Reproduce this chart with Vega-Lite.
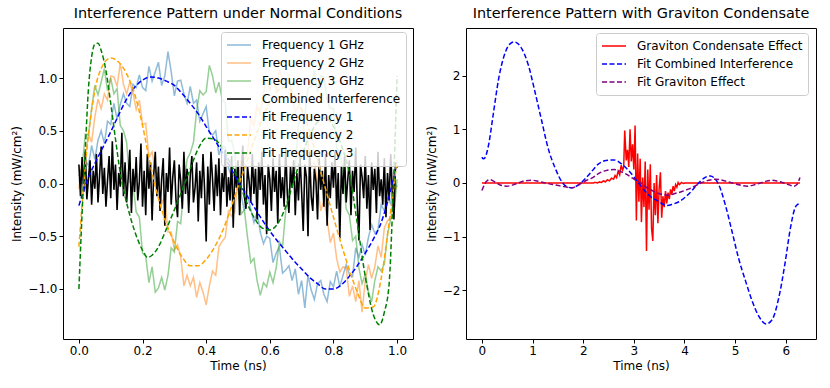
{
"$schema":"https://vega.github.io/schema/vega-lite/v6.json",
"background":"white",
"padding":{"left":10,"top":5,"right":5,"bottom":5},
"config":{
"font":"DejaVu Sans",
"view":{"stroke":"black","strokeWidth":1},
"axis":{"grid":false,"domain":false,"tickColor":"black","tickSize":4,"tickWidth":1,"labelFontSize":12,"labelColor":"black","labelPadding":2,"labelFlush":false,"labelOverlap":false,"titleFontSize":12,"titleFontWeight":"normal","titleColor":"black","titlePadding":4},
"title":{"fontSize":14.4,"fontWeight":"normal","color":"black","offset":7},
"legend":{"title":null,"symbolType":"stroke","symbolSize":576,"symbolStrokeWidth":1.5,"symbolOpacity":1,"labelOffset":10,"clipHeight":16,"rowPadding":2,"padding":5,"fillColor":"rgba(255,255,255,0.8)","strokeColor":"#cccccc","cornerRadius":3,"labelFontSize":12,"labelColor":"black","labelLimit":400},
"concat":{"spacing":10}
},
"datasets":{
"raw":[
{"t":0,"a":0.03,"b":-0.05,"c":0.07},{"t":0.01,"a":0.00,"b":0.21,"c":0.15},{"t":0.02,"a":0.22,"b":0.23,"c":0.47},{"t":0.03,"a":0.17,"b":0.47,"c":0.46},{"t":0.04,"a":0.36,"b":0.39,"c":0.71},{"t":0.05,"a":0.23,"b":0.63,"c":0.93},{"t":0.06,"a":0.41,"b":0.80,"c":0.84},{"t":0.07,"a":0.50,"b":0.71,"c":0.96},{"t":0.08,"a":0.38,"b":0.85,"c":1.09},{"t":0.09,"a":0.59,"b":0.79,"c":0.88},
{"t":0.10,"a":0.56,"b":1.02,"c":1.00},{"t":0.11,"a":0.76,"b":1.01,"c":0.85},{"t":0.12,"a":0.61,"b":0.92,"c":0.90},{"t":0.13,"a":0.75,"b":1.14,"c":0.55},{"t":0.14,"a":0.85,"b":0.94,"c":0.50},{"t":0.15,"a":0.76,"b":0.85,"c":0.39},{"t":0.16,"a":0.73,"b":0.96,"c":0.01},{"t":0.17,"a":0.94,"b":0.86,"c":0.00},{"t":0.18,"a":0.91,"b":0.70,"c":-0.27},{"t":0.19,"a":1.03,"b":0.79,"c":-0.32},
{"t":0.20,"a":0.91,"b":0.56,"c":-0.66},{"t":0.21,"a":0.88,"b":0.57,"c":-0.69},{"t":0.22,"a":1.11,"b":0.25,"c":-0.94},{"t":0.23,"a":0.97,"b":0.30,"c":-0.79},{"t":0.24,"a":1.06,"b":0.12,"c":-1.03},{"t":0.25,"a":1.15,"b":0.08,"c":-0.99},{"t":0.26,"a":0.93,"b":-0.19,"c":-0.89},{"t":0.27,"a":1.02,"b":-0.12,"c":-1.01},{"t":0.28,"a":1.25,"b":-0.46,"c":-0.87},{"t":0.29,"a":1.06,"b":-0.46,"c":-0.61},
{"t":0.30,"a":0.83,"b":-0.63,"c":-0.65},{"t":0.31,"a":0.97,"b":-0.58,"c":-0.36},{"t":0.32,"a":0.98,"b":-0.70,"c":-0.38},{"t":0.33,"a":0.85,"b":-0.97,"c":-0.03},{"t":0.34,"a":0.76,"b":-0.87,"c":0.23},{"t":0.35,"a":0.92,"b":-0.97,"c":0.29},{"t":0.36,"a":0.76,"b":-0.89,"c":0.39},{"t":0.37,"a":0.79,"b":-1.08,"c":0.69},{"t":0.38,"a":0.59,"b":-0.94,"c":0.88},{"t":0.39,"a":0.66,"b":-1.03,"c":0.84},
{"t":0.40,"a":0.73,"b":-1.15,"c":0.87},{"t":0.41,"a":0.48,"b":-0.97,"c":1.12},{"t":0.42,"a":0.46,"b":-0.83,"c":1.02},{"t":0.43,"a":0.50,"b":-0.87,"c":0.86},{"t":0.44,"a":0.27,"b":-0.60,"c":0.96},{"t":0.45,"a":0.36,"b":-0.55,"c":0.80},{"t":0.46,"a":0.34,"b":-0.51,"c":0.76},{"t":0.47,"a":0.15,"b":-0.26,"c":0.40},{"t":0.48,"a":0.06,"b":-0.31,"c":0.41},{"t":0.49,"a":0.09,"b":-0.27,"c":0.28},
{"t":0.50,"a":0.12,"b":0.05,"c":-0.05},{"t":0.51,"a":-0.11,"b":0.22,"c":-0.29},{"t":0.52,"a":-0.26,"b":0.23,"c":-0.25},{"t":0.53,"a":-0.11,"b":0.29,"c":-0.51},{"t":0.54,"a":-0.24,"b":0.61,"c":-0.75},{"t":0.55,"a":-0.37,"b":0.55,"c":-0.71},{"t":0.56,"a":-0.27,"b":0.74,"c":-0.92},{"t":0.57,"a":-0.46,"b":0.66,"c":-1.06},{"t":0.58,"a":-0.57,"b":0.86,"c":-0.94},{"t":0.59,"a":-0.50,"b":1.00,"c":-0.98},
{"t":0.60,"a":-0.52,"b":0.88,"c":-0.84},{"t":0.61,"a":-0.75,"b":1.01,"c":-0.94},{"t":0.62,"a":-0.66,"b":0.88,"c":-0.80},{"t":0.63,"a":-0.60,"b":1.08,"c":-0.55},{"t":0.64,"a":-0.85,"b":0.99,"c":-0.60},{"t":0.65,"a":-0.82,"b":0.90,"c":-0.26},{"t":0.66,"a":-0.78,"b":1.04,"c":-0.06},{"t":0.67,"a":-0.92,"b":0.81,"c":0.02},{"t":0.68,"a":-0.81,"b":0.68,"c":0.15},{"t":0.69,"a":-1.05,"b":0.74,"c":0.56},
{"t":0.70,"a":-0.92,"b":0.70,"c":0.61},{"t":0.71,"a":-1.18,"b":0.42,"c":0.65},{"t":0.72,"a":-0.87,"b":0.39,"c":0.90},{"t":0.73,"a":-1.01,"b":0.15,"c":0.92},{"t":0.74,"a":-1.10,"b":0.20,"c":1.08},{"t":0.75,"a":-0.95,"b":-0.01,"c":0.87},{"t":0.76,"a":-0.92,"b":-0.26,"c":1.02},{"t":0.77,"a":-1.05,"b":-0.16,"c":1.01},{"t":0.78,"a":-1.12,"b":-0.33,"c":0.79},{"t":0.79,"a":-0.93,"b":-0.56,"c":0.71},
{"t":0.80,"a":-0.98,"b":-0.47,"c":0.71},{"t":0.81,"a":-0.83,"b":-0.71,"c":0.34},{"t":0.82,"a":-0.98,"b":-0.84,"c":0.28},{"t":0.83,"a":-0.87,"b":-0.79,"c":0.13},{"t":0.84,"a":-0.77,"b":-0.80,"c":-0.24},{"t":0.85,"a":-0.86,"b":-1.07,"c":-0.30},{"t":0.86,"a":-0.88,"b":-0.97,"c":-0.54},{"t":0.87,"a":-0.61,"b":-1.12,"c":-0.50},{"t":0.88,"a":-0.70,"b":-0.92,"c":-0.80},{"t":0.89,"a":-0.58,"b":-1.22,"c":-0.95},
{"t":0.90,"a":-0.68,"b":-0.92,"c":-0.86},{"t":0.91,"a":-0.51,"b":-0.77,"c":-1.03},{"t":0.92,"a":-0.39,"b":-0.90,"c":-1.12},{"t":0.93,"a":-0.47,"b":-0.79,"c":-0.92},{"t":0.94,"a":-0.44,"b":-0.59,"c":-0.79},{"t":0.95,"a":-0.20,"b":-0.70,"c":-0.83},{"t":0.96,"a":-0.26,"b":-0.42,"c":-0.76},{"t":0.97,"a":-0.14,"b":-0.35,"c":-0.48},{"t":0.98,"a":-0.19,"b":-0.33,"c":-0.34},{"t":0.99,"a":0.02,"b":-0.09,"c":-0.29},
{"t":1.00,"a":-0.03,"b":-0.02,"c":0.04}
],
"comb":[
{"t":0,"d":0.18},{"t":0.005,"d":-0.12},{"t":0.01,"d":0.25},{"t":0.015,"d":-0.08},{"t":0.02,"d":0.30},{"t":0.025,"d":-0.15},{"t":0.03,"d":0.05},{"t":0.035,"d":0.22},{"t":0.04,"d":-0.20},{"t":0.045,"d":0.12},
{"t":0.05,"d":-0.05},{"t":0.055,"d":0.28},{"t":0.06,"d":-0.18},{"t":0.065,"d":0.08},{"t":0.07,"d":0.35},{"t":0.075,"d":-0.10},{"t":0.08,"d":0.15},{"t":0.085,"d":-0.22},{"t":0.09,"d":0.03},{"t":0.095,"d":0.26},
{"t":0.1,"d":-0.14},{"t":0.105,"d":0.40},{"t":0.11,"d":-0.06},{"t":0.115,"d":0.18},{"t":0.12,"d":-0.25},{"t":0.125,"d":0.10},{"t":0.13,"d":-0.03},{"t":0.135,"d":0.48},{"t":0.14,"d":-0.12},{"t":0.145,"d":0.20},
{"t":0.15,"d":-0.18},{"t":0.155,"d":0.06},{"t":0.16,"d":0.32},{"t":0.165,"d":-0.28},{"t":0.17,"d":0.14},{"t":0.175,"d":-0.08},{"t":0.18,"d":0.25},{"t":0.185,"d":-0.16},{"t":0.19,"d":0.02},{"t":0.195,"d":0.38},
{"t":0.2,"d":-0.22},{"t":0.205,"d":0.12},{"t":0.21,"d":-0.30},{"t":0.215,"d":0.28},{"t":0.22,"d":-0.05},{"t":0.225,"d":0.20},{"t":0.23,"d":-0.35},{"t":0.235,"d":0.08},{"t":0.24,"d":0.30},{"t":0.245,"d":-0.12},
{"t":0.25,"d":0.16},{"t":0.255,"d":-0.26},{"t":0.26,"d":0.04},{"t":0.265,"d":0.24},{"t":0.27,"d":-0.40},{"t":0.275,"d":0.10},{"t":0.28,"d":-0.08},{"t":0.285,"d":0.34},{"t":0.29,"d":-0.20},{"t":0.295,"d":0.06},
{"t":0.3,"d":0.22},{"t":0.305,"d":-0.15},{"t":0.31,"d":-0.32},{"t":0.315,"d":0.18},{"t":0.32,"d":0.02},{"t":0.325,"d":-0.24},{"t":0.33,"d":0.30},{"t":0.335,"d":-0.10},{"t":0.34,"d":0.14},{"t":0.345,"d":-0.28},
{"t":0.35,"d":0.08},{"t":0.355,"d":0.26},{"t":0.36,"d":-0.18},{"t":0.365,"d":-0.04},{"t":0.37,"d":0.20},{"t":0.375,"d":-0.36},{"t":0.38,"d":0.12},{"t":0.385,"d":-0.14},{"t":0.39,"d":0.28},{"t":0.395,"d":-0.06},
{"t":0.4,"d":-0.55},{"t":0.405,"d":0.16},{"t":0.41,"d":-0.20},{"t":0.415,"d":0.30},{"t":0.42,"d":0.04},{"t":0.425,"d":-0.26},{"t":0.43,"d":0.18},{"t":0.435,"d":-0.12},{"t":0.44,"d":0.24},{"t":0.445,"d":-0.30},
{"t":0.45,"d":0.10},{"t":0.455,"d":-0.08},{"t":0.46,"d":0.32},{"t":0.465,"d":-0.22},{"t":0.47,"d":0.06},{"t":0.475,"d":-0.16},{"t":0.48,"d":0.26},{"t":0.485,"d":-0.42},{"t":0.49,"d":0.14},{"t":0.495,"d":-0.04},
{"t":0.5,"d":0.22},{"t":0.505,"d":-0.30},{"t":0.51,"d":0.08},{"t":0.515,"d":0.36},{"t":0.52,"d":-0.12},{"t":0.525,"d":-0.24},{"t":0.53,"d":0.16},{"t":0.535,"d":0.02},{"t":0.54,"d":-0.18},{"t":0.545,"d":0.28},
{"t":0.55,"d":-0.10},{"t":0.555,"d":0.14},{"t":0.56,"d":-0.34},{"t":0.565,"d":0.20},{"t":0.57,"d":-0.06},{"t":0.575,"d":0.30},{"t":0.58,"d":-0.20},{"t":0.585,"d":0.08},{"t":0.59,"d":-0.48},{"t":0.595,"d":0.18},
{"t":0.6,"d":0.04},{"t":0.605,"d":-0.26},{"t":0.61,"d":0.24},{"t":0.615,"d":-0.08},{"t":0.62,"d":0.12},{"t":0.625,"d":-0.38},{"t":0.63,"d":0.28},{"t":0.635,"d":-0.14},{"t":0.64,"d":0.06},{"t":0.645,"d":-0.22},
{"t":0.65,"d":0.34},{"t":0.655,"d":-0.10},{"t":0.66,"d":-0.28},{"t":0.665,"d":0.16},{"t":0.67,"d":-0.04},{"t":0.675,"d":0.22},{"t":0.68,"d":-0.30},{"t":0.685,"d":0.10},{"t":0.69,"d":-0.16},{"t":0.695,"d":0.26},
{"t":0.7,"d":-0.08},{"t":0.705,"d":-0.45},{"t":0.71,"d":0.18},{"t":0.715,"d":0.06},{"t":0.72,"d":-0.50},{"t":0.725,"d":0.30},{"t":0.73,"d":-0.12},{"t":0.735,"d":-0.26},{"t":0.74,"d":0.14},{"t":0.745,"d":0.02},
{"t":0.75,"d":-0.34},{"t":0.755,"d":0.24},{"t":0.76,"d":-0.06},{"t":0.765,"d":0.12},{"t":0.77,"d":-0.22},{"t":0.775,"d":0.28},{"t":0.78,"d":-0.40},{"t":0.785,"d":0.08},{"t":0.79,"d":-0.14},{"t":0.795,"d":0.20},
{"t":0.8,"d":-0.04},{"t":0.805,"d":0.30},{"t":0.81,"d":-0.24},{"t":0.815,"d":0.10},{"t":0.82,"d":-0.52},{"t":0.825,"d":0.16},{"t":0.83,"d":-0.10},{"t":0.835,"d":0.26},{"t":0.84,"d":-0.18},{"t":0.845,"d":0.04},
{"t":0.85,"d":0.22},{"t":0.855,"d":-0.30},{"t":0.86,"d":0.12},{"t":0.865,"d":-0.08},{"t":0.87,"d":0.34},{"t":0.875,"d":-0.20},{"t":0.88,"d":-0.54},{"t":0.885,"d":0.18},{"t":0.89,"d":0.06},{"t":0.895,"d":-0.14},
{"t":0.9,"d":0.26},{"t":0.905,"d":-0.24},{"t":0.91,"d":0.08},{"t":0.915,"d":-0.44},{"t":0.92,"d":0.20},{"t":0.925,"d":-0.06},{"t":0.93,"d":0.14},{"t":0.935,"d":-0.28},{"t":0.94,"d":0.30},{"t":0.945,"d":-0.12},
{"t":0.95,"d":0.04},{"t":0.955,"d":-0.20},{"t":0.96,"d":0.24},{"t":0.965,"d":-0.32},{"t":0.97,"d":0.10},{"t":0.975,"d":-0.16},{"t":0.98,"d":0.28},{"t":0.985,"d":-0.08},{"t":0.99,"d":-0.34},{"t":0.995,"d":0.20},
{"t":1,"d":0.15}
],
"fit12":[
{"t":0,"e":-0.21,"f":-0.6},{"t":0.025,"e":0.02,"f":0.32},{"t":0.05,"e":0.19,"f":0.88},{"t":0.075,"e":0.34,"f":1.12},{"t":0.1,"e":0.49,"f":1.19},{"t":0.125,"e":0.65,"f":1.15},{"t":0.15,"e":0.8,"f":1.04},{"t":0.175,"e":0.91,"f":0.85},{"t":0.2,"e":0.98,"f":0.55},{"t":0.225,"e":1.01,"f":0.17},
{"t":0.25,"e":1.0,"f":-0.14},{"t":0.275,"e":0.97,"f":-0.38},{"t":0.3,"e":0.93,"f":-0.56},{"t":0.325,"e":0.85,"f":-0.7},{"t":0.35,"e":0.76,"f":-0.78},{"t":0.375,"e":0.66,"f":-0.78},{"t":0.4,"e":0.54,"f":-0.72},{"t":0.425,"e":0.42,"f":-0.61},{"t":0.45,"e":0.3,"f":-0.46},{"t":0.475,"e":0.16,"f":-0.26},
{"t":0.5,"e":0.02,"f":-0.03},{"t":0.525,"e":-0.1,"f":0.18},{"t":0.55,"e":-0.22,"f":0.4},{"t":0.575,"e":-0.34,"f":0.6},{"t":0.6,"e":-0.45,"f":0.77},{"t":0.625,"e":-0.55,"f":0.88},{"t":0.65,"e":-0.64,"f":0.91},{"t":0.675,"e":-0.73,"f":0.85},{"t":0.7,"e":-0.81,"f":0.71},{"t":0.725,"e":-0.89,"f":0.49},
{"t":0.75,"e":-0.95,"f":0.22},{"t":0.775,"e":-1.0,"f":-0.05},{"t":0.8,"e":-1.0,"f":-0.32},{"t":0.825,"e":-0.96,"f":-0.58},{"t":0.85,"e":-0.88,"f":-0.82},{"t":0.875,"e":-0.78,"f":-1.03},{"t":0.9,"e":-0.66,"f":-1.18},{"t":0.925,"e":-0.53,"f":-1.17},{"t":0.95,"e":-0.37,"f":-0.9},{"t":0.975,"e":-0.12,"f":-0.37},
{"t":1,"e":0.2,"f":0.22}
],
"fit3":[
{"t":0,"g":-1.0},{"t":0.01,"g":-0.28},{"t":0.02,"g":0.32},{"t":0.03,"g":0.9},{"t":0.04,"g":1.2},{"t":0.05,"g":1.32},{"t":0.06,"g":1.33},{"t":0.07,"g":1.26},{"t":0.085,"g":1.07},{"t":0.1,"g":0.76},
{"t":0.115,"g":0.42},{"t":0.13,"g":0.1},{"t":0.145,"g":-0.12},{"t":0.16,"g":-0.3},{"t":0.175,"g":-0.45},{"t":0.19,"g":-0.57},{"t":0.205,"g":-0.66},{"t":0.215,"g":-0.7},{"t":0.23,"g":-0.68},{"t":0.25,"g":-0.6},
{"t":0.275,"g":-0.43},{"t":0.3,"g":-0.25},{"t":0.325,"g":-0.06},{"t":0.35,"g":0.14},{"t":0.375,"g":0.33},{"t":0.4,"g":0.43},{"t":0.425,"g":0.42},{"t":0.45,"g":0.34},{"t":0.475,"g":0.2},{"t":0.5,"g":0.04},
{"t":0.525,"g":-0.16},{"t":0.55,"g":-0.32},{"t":0.575,"g":-0.42},{"t":0.6,"g":-0.44},{"t":0.625,"g":-0.38},{"t":0.65,"g":-0.22},{"t":0.675,"g":0.02},{"t":0.7,"g":0.26},{"t":0.725,"g":0.45},{"t":0.75,"g":0.58},
{"t":0.775,"g":0.62},{"t":0.8,"g":0.54},{"t":0.825,"g":0.36},{"t":0.85,"g":0.1},{"t":0.875,"g":-0.38},{"t":0.9,"g":-0.88},{"t":0.925,"g":-1.24},{"t":0.945,"g":-1.34},{"t":0.96,"g":-1.22},{"t":0.975,"g":-0.95},
{"t":0.985,"g":-0.3},{"t":0.993,"g":0.35},{"t":1,"g":1.02}
],
"grav":[
{"t":0,"h":0},{"t":1,"h":0},{"t":2,"h":0},{"t":2.2,"h":0},{"t":2.24,"h":0.01},{"t":2.28,"h":0.0},{"t":2.32,"h":0.02},{"t":2.36,"h":0.01},{"t":2.4,"h":0.04},{"t":2.44,"h":0.02},
{"t":2.48,"h":0.06},{"t":2.52,"h":0.04},{"t":2.56,"h":0.09},{"t":2.6,"h":0.07},{"t":2.63,"h":0.14},{"t":2.66,"h":0.1},{"t":2.69,"h":0.22},{"t":2.72,"h":0.15},{"t":2.75,"h":0.33},{"t":2.78,"h":0.24},
{"t":2.8,"h":0.3},{"t":2.82,"h":0.98},{"t":2.85,"h":0.42},{"t":2.875,"h":0.62},{"t":2.9,"h":0.3},{"t":2.925,"h":1.0},{"t":2.95,"h":0.4},{"t":2.975,"h":0.72},{"t":3.0,"h":0.25},{"t":3.025,"h":1.07},
{"t":3.05,"h":-0.7},{"t":3.075,"h":0.55},{"t":3.1,"h":-0.35},{"t":3.125,"h":0.45},{"t":3.15,"h":-0.73},{"t":3.175,"h":0.1},{"t":3.2,"h":-0.45},{"t":3.225,"h":0.4},{"t":3.25,"h":-1.27},{"t":3.275,"h":0.25},
{"t":3.3,"h":-0.5},{"t":3.325,"h":0.35},{"t":3.35,"h":-0.85},{"t":3.375,"h":-1.08},{"t":3.4,"h":0.0},{"t":3.425,"h":-0.6},{"t":3.45,"h":0.15},{"t":3.475,"h":-0.75},{"t":3.5,"h":-0.1},{"t":3.525,"h":0.2},
{"t":3.55,"h":-0.65},{"t":3.575,"h":-0.25},{"t":3.6,"h":-0.45},{"t":3.625,"h":-0.15},{"t":3.65,"h":-0.38},{"t":3.675,"h":-0.18},{"t":3.7,"h":-0.3},{"t":3.725,"h":-0.12},{"t":3.75,"h":-0.22},{"t":3.775,"h":-0.06},
{"t":3.8,"h":-0.15},{"t":3.825,"h":-0.03},{"t":3.85,"h":-0.08},{"t":3.875,"h":0.01},{"t":3.9,"h":-0.03},{"t":3.94,"h":0.01},{"t":3.98,"h":-0.01},{"t":4.02,"h":0.0},{"t":4.1,"h":0.0},{"t":5,"h":0.0},
{"t":6.28,"h":0.0}
],
"fitR1":[
{"t":0,"i":0.48},{"t":0.03,"i":0.45},{"t":0.06,"i":0.47},{"t":0.13,"i":0.7},{"t":0.23,"i":1.32},{"t":0.33,"i":1.94},{"t":0.46,"i":2.43},{"t":0.55,"i":2.59},{"t":0.64,"i":2.63},{"t":0.72,"i":2.59},
{"t":0.79,"i":2.5},{"t":0.92,"i":2.19},{"t":1.05,"i":1.69},{"t":1.18,"i":1.16},{"t":1.31,"i":0.64},{"t":1.45,"i":0.27},{"t":1.58,"i":0.02},{"t":1.68,"i":-0.07},{"t":1.77,"i":-0.09},{"t":1.9,"i":-0.04},
{"t":2.1,"i":0.14},{"t":2.31,"i":0.36},{"t":2.45,"i":0.42},{"t":2.61,"i":0.43},{"t":2.75,"i":0.36},{"t":2.9,"i":0.23},{"t":3.1,"i":-0.01},{"t":3.3,"i":-0.23},{"t":3.5,"i":-0.35},{"t":3.63,"i":-0.42},
{"t":3.75,"i":-0.4},{"t":3.89,"i":-0.35},{"t":4.09,"i":-0.2},{"t":4.28,"i":0.0},{"t":4.4,"i":0.1},{"t":4.51,"i":0.13},{"t":4.6,"i":0.08},{"t":4.68,"i":-0.04},{"t":4.81,"i":-0.42},{"t":4.94,"i":-0.91},
{"t":5.07,"i":-1.41},{"t":5.21,"i":-1.84},{"t":5.34,"i":-2.21},{"t":5.47,"i":-2.49},{"t":5.61,"i":-2.63},{"t":5.73,"i":-2.55},{"t":5.86,"i":-2.15},{"t":5.99,"i":-1.47},{"t":6.09,"i":-0.85},{"t":6.19,"i":-0.45},
{"t":6.25,"i":-0.39},{"t":6.28,"i":-0.37}
],
"fitR2":[
{"t":0,"j":-0.14},{"t":0.05,"j":-0.03},{"t":0.1,"j":0.04},{"t":0.16,"j":0.06},{"t":0.22,"j":0.04},{"t":0.29,"j":0.0},{"t":0.4,"j":-0.05},{"t":0.49,"j":-0.06},{"t":0.6,"j":-0.04},{"t":0.72,"j":0.0},
{"t":0.85,"j":0.04},{"t":0.99,"j":0.05},{"t":1.12,"j":0.03},{"t":1.25,"j":0.0},{"t":1.4,"j":-0.03},{"t":1.58,"j":-0.06},{"t":1.77,"j":-0.09},{"t":1.87,"j":-0.06},{"t":1.97,"j":0.0},{"t":2.07,"j":0.05},
{"t":2.17,"j":0.09},{"t":2.31,"j":0.18},{"t":2.45,"j":0.23},{"t":2.61,"j":0.25},{"t":2.72,"j":0.22},{"t":2.84,"j":0.17},{"t":2.94,"j":0.11},{"t":3.04,"j":0.05},{"t":3.14,"j":0.0},{"t":3.23,"j":-0.07},
{"t":3.36,"j":-0.14},{"t":3.5,"j":-0.2},{"t":3.62,"j":-0.22},{"t":3.69,"j":-0.23},{"t":3.8,"j":-0.2},{"t":3.95,"j":-0.16},{"t":4.09,"j":-0.11},{"t":4.22,"j":-0.05},{"t":4.35,"j":0.01},{"t":4.48,"j":0.05},
{"t":4.61,"j":0.07},{"t":4.75,"j":0.05},{"t":4.94,"j":0.0},{"t":5.1,"j":-0.04},{"t":5.24,"j":-0.06},{"t":5.36,"j":-0.04},{"t":5.47,"j":-0.01},{"t":5.6,"j":0.03},{"t":5.73,"j":0.05},{"t":5.85,"j":0.03},
{"t":5.93,"j":0.01},{"t":6.05,"j":-0.03},{"t":6.16,"j":-0.06},{"t":6.22,"j":-0.03},{"t":6.28,"j":0.1}
]
},
"hconcat":[
{
"width":350,"height":311,
"title":"Interference Pattern under Normal Conditions",
"encoding":{
"x":{"field":"t","type":"quantitative","scale":{"domain":[-0.05,1.05],"nice":false,"zero":false},"axis":{"values":[0,0.2,0.4,0.6,0.8,1.0],"format":".1f","title":"Time (ns)"}},
"y":{"field":"v","type":"quantitative","scale":{"domain":[-1.474,1.474],"nice":false,"zero":false},"axis":{"values":[-1,-0.5,0,0.5,1],"format":".1f","title":"Intensity (mW/cm²)"}},
"color":{"field":"s","type":"nominal","scale":{"domain":["a","b","c","d","e","f","g"],"range":["#1f77b4","#ff7f0e","#2ca02c","#000000","#0000ff","#ffa500","#008000"]},"legend":{"orient":"none","legendX":158,"legendY":4,"labelExpr":"{'a':'Frequency 1 GHz','b':'Frequency 2 GHz','c':'Frequency 3 GHz','d':'Combined Interference','e':'Fit Frequency 1','f':'Fit Frequency 2','g':'Fit Frequency 3'}[datum.label]","encode":{"symbols":{"update":{"opacity":[{"test":"datum.value === 'a' || datum.value === 'b' || datum.value === 'c'","value":0.5},{"value":1}]}}}}},
"strokeDash":{"field":"s","type":"nominal","scale":{"domain":["a","b","c","d","e","f","g"],"range":[[1,0],[1,0],[1,0],[1,0],[5,2.5],[5,2.5],[5,2.5]]},"legend":{"orient":"none","legendX":158,"legendY":4,"labelExpr":"{'a':'Frequency 1 GHz','b':'Frequency 2 GHz','c':'Frequency 3 GHz','d':'Combined Interference','e':'Fit Frequency 1','f':'Fit Frequency 2','g':'Fit Frequency 3'}[datum.label]","encode":{"symbols":{"update":{"opacity":[{"test":"datum.value === 'a' || datum.value === 'b' || datum.value === 'c'","value":0.5},{"value":1}]}}}}}
},
"layer":[
{"data":{"name":"raw"},"transform":[{"fold":["a","b","c"],"as":["s","v"]}],"mark":{"type":"line","strokeWidth":1.5,"opacity":0.5}},
{"data":{"name":"comb"},"transform":[{"fold":["d"],"as":["s","v"]}],"mark":{"type":"line","strokeWidth":1.6,"opacity":1}},
{"data":{"name":"fit12"},"transform":[{"fold":["e","f"],"as":["s","v"]}],"mark":{"type":"line","strokeWidth":1.5,"opacity":1,"interpolate":"monotone"}},
{"data":{"name":"fit3"},"transform":[{"fold":["g"],"as":["s","v"]}],"mark":{"type":"line","strokeWidth":1.5,"opacity":1,"interpolate":"monotone"}}
]
},
{
"width":350,"height":311,
"title":"Interference Pattern with Graviton Condensate",
"encoding":{
"x":{"field":"t","type":"quantitative","scale":{"domain":[-0.314,6.597],"nice":false,"zero":false},"axis":{"values":[0,1,2,3,4,5,6],"format":"d","title":"Time (ns)"}},
"y":{"field":"v","type":"quantitative","scale":{"domain":[-2.91,2.89],"nice":false,"zero":false},"axis":{"values":[-2,-1,0,1,2],"format":"d","title":"Intensity (mW/cm²)"}},
"color":{"field":"r","type":"nominal","scale":{"domain":["h","i","j"],"range":["#ff0000","#0000ff","#800080"]},"legend":{"orient":"none","legendX":130,"legendY":5,"labelExpr":"{'h':'Graviton Condensate Effect','i':'Fit Combined Interference','j':'Fit Graviton Effect'}[datum.label]"}},
"strokeDash":{"field":"r","type":"nominal","scale":{"domain":["h","i","j"],"range":[[1,0],[5,2.5],[5,2.5]]},"legend":{"orient":"none","legendX":130,"legendY":5,"labelExpr":"{'h':'Graviton Condensate Effect','i':'Fit Combined Interference','j':'Fit Graviton Effect'}[datum.label]"}}
},
"layer":[
{"data":{"name":"grav"},"transform":[{"fold":["h"],"as":["r","v"]}],"mark":{"type":"line","strokeWidth":1.5,"opacity":1}},
{"data":{"name":"fitR1"},"transform":[{"fold":["i"],"as":["r","v"]}],"mark":{"type":"line","strokeWidth":1.5,"opacity":1,"interpolate":"monotone"}},
{"data":{"name":"fitR2"},"transform":[{"fold":["j"],"as":["r","v"]}],"mark":{"type":"line","strokeWidth":1.5,"opacity":1,"interpolate":"monotone"}}
]
}
],
"resolve":{"scale":{"color":"independent","strokeDash":"independent","x":"independent","y":"independent"},"legend":{"color":"independent","strokeDash":"independent"}}
}
